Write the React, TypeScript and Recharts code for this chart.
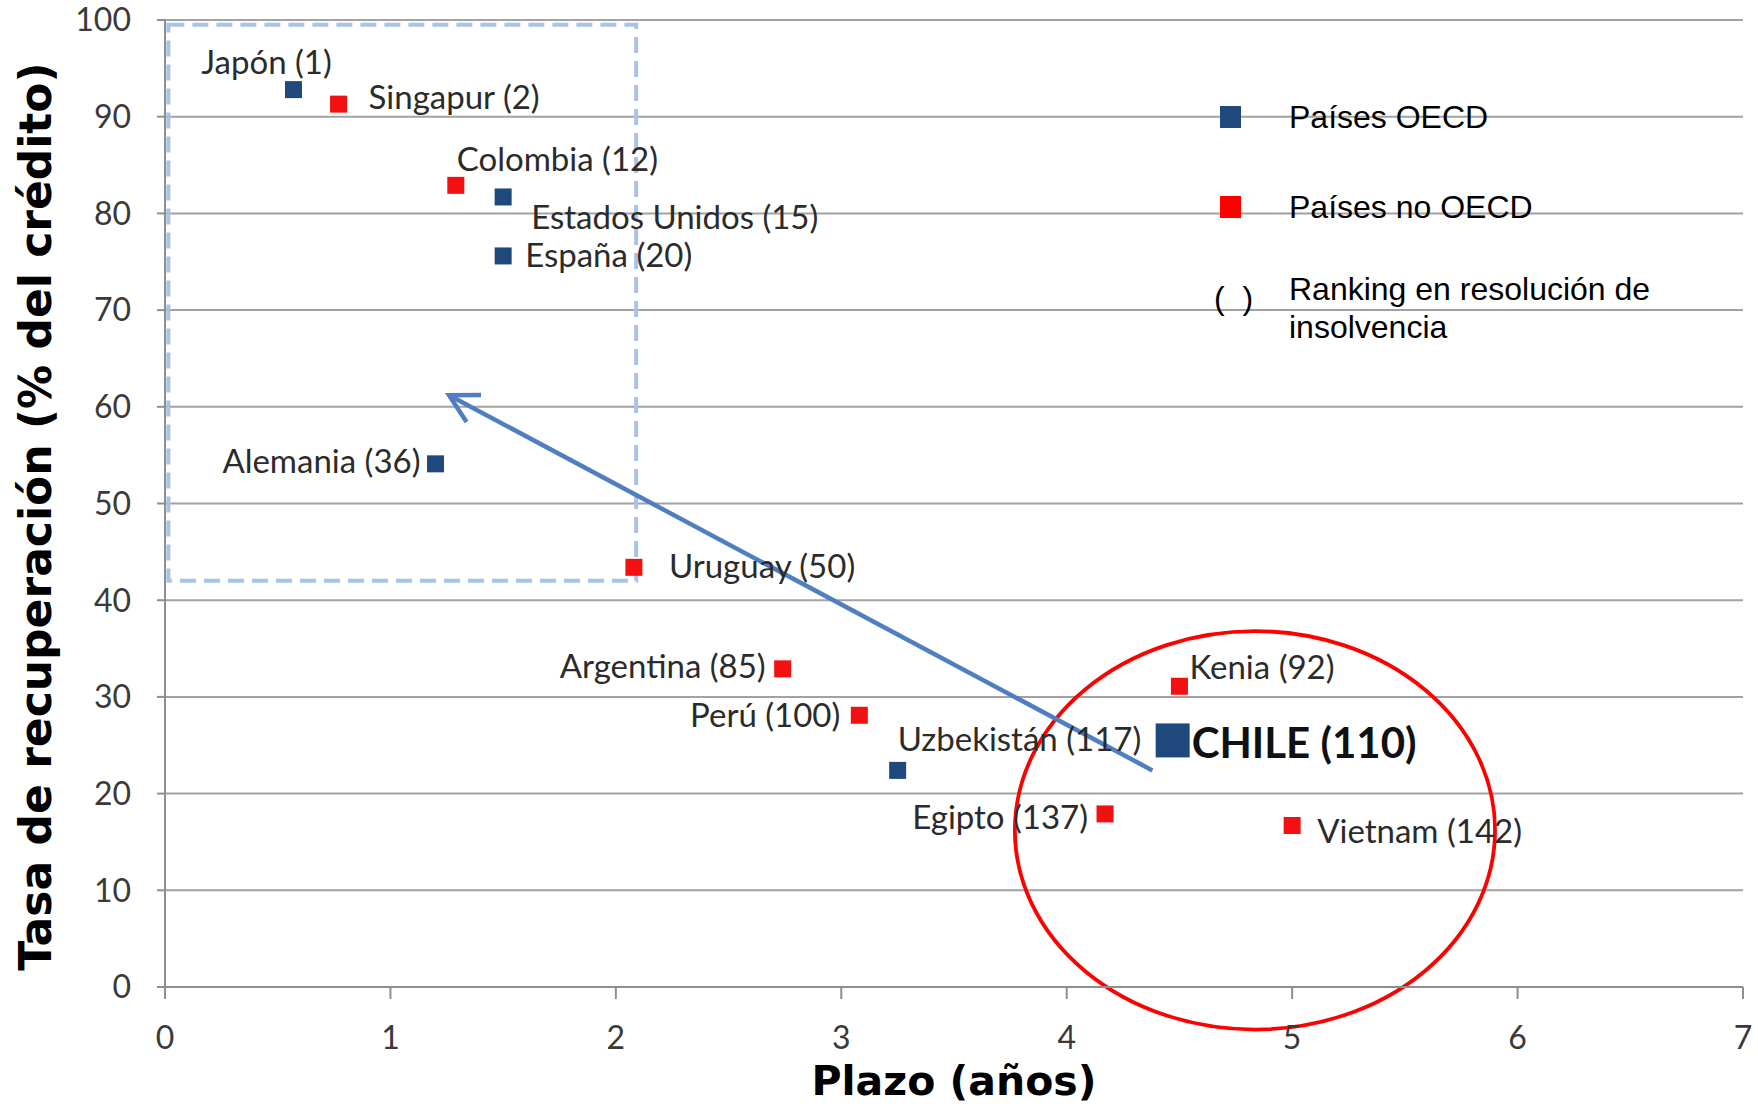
import React from 'react'
import {
  CartesianGrid,
  LabelList,
  Legend,
  ReferenceArea,
  ReferenceLine,
  Scatter,
  ScatterChart,
  XAxis,
  YAxis,
} from 'recharts'

// Datos: plazo (años) y tasa de recuperación (% del crédito)
const countries = [
  'Japón (1)',
  'Singapur (2)',
  'Colombia (12)',
  'Estados Unidos (15)',
  'España (20)',
  'Alemania (36)',
  'Uruguay (50)',
  'Argentina (85)',
  'Perú (100)',
  'Uzbekistán (117)',
  'Kenia (92)',
  'CHILE (110)',
  'Egipto (137)',
  'Vietnam (142)',
]
const plazo = [0.57, 0.77, 1.29, 1.5, 1.5, 1.2, 2.08, 2.74, 3.08, 3.25, 4.5, 4.47, 4.17, 5.0]
const tasa = [92.8, 91.3, 82.9, 81.7, 75.6, 54.1, 43.4, 32.9, 28.1, 22.4, 31.1, 25.5, 17.9, 16.7]
const isOecd = [true, false, false, true, true, true, false, false, false, true, false, true, false, false]

const seriesNames = ['Países OECD', 'Países no OECD']
const rankingNote = ['Ranking en resolución de', 'insolvencia']
const highlighted = 'CHILE (110)'

const xTicks = [0, 1, 2, 3, 4, 5, 6, 7]
const yTicks = [0, 10, 20, 30, 40, 50, 60, 70, 80, 90, 100]

// anotaciones (en unidades de los ejes)
const focusBox = { x1: 0.015, x2: 2.09, y1: 42, y2: 99.5 }
const arrowFrom = { x: 4.38, y: 22.4 }
const arrowTo = { x: 1.26, y: 61.2 }
const circleBox = { x1: 3.77, x2: 5.9, y1: -4.4, y2: 36.8 }

const BLUE = '#1f497d'
const RED = '#f21010'

const rows = countries.map((name, i) => ({ name, plazo: plazo[i], tasa: tasa[i] }))
const oecdRows = rows.filter((_, i) => isOecd[i])
const otherRows = rows.filter((_, i) => !isOecd[i])

// desplazamiento de cada etiqueta respecto a su marcador
const labelPlacement: Record<string, [number, number, 'start' | 'middle' | 'end']> = {
  'Japón (1)': [-27, -28, 'middle'],
  'Singapur (2)': [30, -7, 'start'],
  'Colombia (12)': [1, -26, 'start'],
  'Estados Unidos (15)': [28, 20, 'start'],
  'España (20)': [22, -1, 'start'],
  'Alemania (36)': [-15, -3, 'end'],
  'Uruguay (50)': [35, -1, 'start'],
  'Argentina (85)': [-17, -3, 'end'],
  'Perú (100)': [-19, 0, 'end'],
  'Uzbekistán (117)': [0, -31, 'start'],
  'Kenia (92)': [10, -19, 'start'],
  'CHILE (110)': [19, 2, 'start'],
  'Egipto (137)': [-17, 3, 'end'],
  'Vietnam (142)': [25, 6, 'start'],
}

const labelFont = 'Lato, "Open Sans", sans-serif'

const squareShape = (color: string) => (props: any) => {
  const { cx, cy, payload } = props
  const s = payload && payload.name === highlighted ? 34 : 17
  return <rect x={cx - s / 2} y={cy - s / 2} width={s} height={s} fill={color} />
}

const renderLabel = (props: any) => {
  const { viewBox, value } = props
  if (!viewBox || value == null) return null
  const cx = viewBox.x + viewBox.width / 2
  const cy = viewBox.y + viewBox.height / 2
  const [dx, dy, anchor] = labelPlacement[value] || [14, 0, 'start']
  const big = value === highlighted
  return (
    <text
      x={cx + dx}
      y={cy + dy}
      dy="0.36em"
      textAnchor={anchor}
      fontFamily={labelFont}
      fontSize={big ? 42 : 33}
      fontWeight={big ? 700 : 400}
      fill={big ? '#111' : '#2b2b2b'}
    >
      {value}
    </text>
  )
}

const ArrowShape = (props: any) => {
  const { x1, y1, x2, y2 } = props
  if ([x1, y1, x2, y2].some((v) => v == null)) return null
  const ang = Math.atan2(y2 - y1, x2 - x1)
  const len = 32
  const spread = 0.5
  const a = [x2 - len * Math.cos(ang - spread), y2 - len * Math.sin(ang - spread)]
  const b = [x2 - len * Math.cos(ang + spread), y2 - len * Math.sin(ang + spread)]
  return (
    <g>
      <line x1={x1} y1={y1} x2={x2} y2={y2} stroke="#4f7fc1" strokeWidth={4.5} />
      <polyline
        points={`${a[0]},${a[1]} ${x2},${y2} ${b[0]},${b[1]}`}
        fill="none"
        stroke="#4f7fc1"
        strokeWidth={4.5}
        strokeLinejoin="miter"
      />
    </g>
  )
}

const EllipseShape = (props: any) => {
  const { x, y, width, height } = props
  if ([x, y, width, height].some((v) => v == null)) return null
  return (
    <ellipse
      cx={x + width / 2}
      cy={y + height / 2}
      rx={Math.abs(width) / 2}
      ry={Math.abs(height) / 2}
      fill="none"
      stroke="#ff0000"
      strokeWidth={3.8}
    />
  )
}

const LegendBox = (props: any) => {
  const items = (props.payload || []).length
    ? props.payload.map((p: any) => ({ value: p.value, color: p.color }))
    : [
        { value: seriesNames[0], color: BLUE },
        { value: seriesNames[1], color: '#ff0000' },
      ]
  const text: React.CSSProperties = {
    position: 'absolute',
    left: 89,
    lineHeight: '36px',
    whiteSpace: 'nowrap',
  }
  return (
    <div
      style={{
        position: 'relative',
        width: 540,
        height: 260,
        fontFamily: '"Liberation Sans", Arial, sans-serif',
        fontSize: 32,
        color: '#000',
      }}
    >
      {items.map((it: any, i: number) => (
        <React.Fragment key={it.value}>
          <div
            style={{
              position: 'absolute',
              left: 20,
              top: 16 + i * 90,
              width: 21,
              height: 22,
              background: i === 1 ? '#ff0000' : it.color,
            }}
          />
          <div style={{ ...text, top: 27 + i * 90 - 18 }}>{it.value}</div>
        </React.Fragment>
      ))}
      <div style={{ ...text, left: 14, top: 208 - 18 }}>(&nbsp;&nbsp;)</div>
      <div style={{ ...text, top: 199 - 18 }}>{rankingNote[0]}</div>
      <div style={{ ...text, top: 237 - 18 }}>{rankingNote[1]}</div>
    </div>
  )
}

export default function App() {
  const axisStroke = { stroke: '#8e8e8e', strokeWidth: 2 }
  const tickStyle = { fill: '#3a3a3a', fontSize: 32, fontFamily: labelFont }
  return (
    <div style={{ position: 'absolute', left: 0, top: 0, width: 1758, height: 1104, background: '#fff' }}>
      <ScatterChart width={1758} height={1104} margin={{ top: 20, right: 15, bottom: 0, left: 0 }}>
        <CartesianGrid vertical={false} stroke="#a2a2a2" strokeWidth={2} />
        <XAxis
          type="number"
          dataKey="plazo"
          domain={[0, 7]}
          ticks={xTicks}
          interval={0}
          height={117}
          tickSize={12}
          tickMargin={27}
          axisLine={axisStroke}
          tickLine={axisStroke}
          tick={tickStyle}
          label={{
            content: (p: any) => {
              const vb = p.viewBox
              if (!vb) return null
              return (
                <text
                  x={vb.x + vb.width / 2}
                  y={vb.y + vb.height - 9}
                  textAnchor="middle"
                  fontFamily='"DejaVu Sans", Verdana, sans-serif'
                  fontWeight={700}
                  fontSize={41}
                  fill="#000"
                >
                  Plazo (años)
                </text>
              )
            },
          }}
        />
        <YAxis
          type="number"
          dataKey="tasa"
          domain={[0, 100]}
          ticks={yTicks}
          interval={0}
          width={165}
          tickSize={8}
          tickMargin={26}
          axisLine={axisStroke}
          tickLine={axisStroke}
          tick={tickStyle}
          label={{
            content: (p: any) => {
              const vb = p.viewBox
              if (!vb) return null
              return (
                <text
                  transform={`translate(${vb.x + 51},${vb.y + vb.height / 2 + 13}) rotate(-90)`}
                  textAnchor="middle"
                  fontFamily='"DejaVu Sans", Verdana, sans-serif'
                  fontWeight={700}
                  fontSize={44}
                  fill="#000"
                >
                  Tasa de recuperación (% del crédito)
                </text>
              )
            },
          }}
        />
        <ReferenceArea
          x1={focusBox.x1}
          x2={focusBox.x2}
          y1={focusBox.y1}
          y2={focusBox.y2}
          fill="none"
          stroke="#a9c3e6"
          strokeWidth={4}
          strokeDasharray="16 8"
          ifOverflow="visible"
        />
        <Scatter
          name={seriesNames[0]}
          data={oecdRows}
          fill={BLUE}
          shape={squareShape(BLUE)}
          isAnimationActive={false}
        >
          <LabelList dataKey="name" content={renderLabel} />
        </Scatter>
        <Scatter
          name={seriesNames[1]}
          data={otherRows}
          fill={RED}
          shape={squareShape(RED)}
          isAnimationActive={false}
        >
          <LabelList dataKey="name" content={renderLabel} />
        </Scatter>
        <ReferenceLine
          segment={[arrowFrom, arrowTo]}
          shape={ArrowShape}
          ifOverflow="visible"
        />
        <ReferenceArea
          x1={circleBox.x1}
          x2={circleBox.x2}
          y1={circleBox.y1}
          y2={circleBox.y2}
          shape={EllipseShape}
          ifOverflow="visible"
        />
        <Legend
          layout="vertical"
          align="center"
          verticalAlign="middle"
          wrapperStyle={{ left: 1200, top: 90, width: 540, height: 260 }}
          content={LegendBox}
        />
      </ScatterChart>
    </div>
  )
}
